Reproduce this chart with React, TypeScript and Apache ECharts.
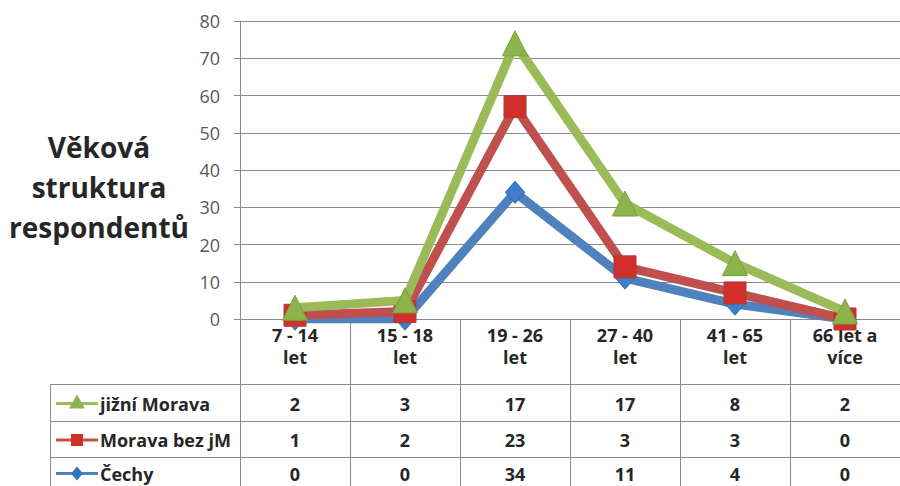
import React, { useEffect, useRef } from "react";
import * as echarts from "echarts";

const categories = ["7 - 14\nlet", "15 - 18\nlet", "19 - 26\nlet", "27 - 40\nlet", "41 - 65\nlet", "66 let a\nvíce"];
const seriesNames = ["jižní Morava", "Morava bez jM", "Čechy"];
const jizniMorava = [2, 3, 17, 17, 8, 2];
const moravaBezJM = [1, 2, 23, 3, 3, 0];
const cechy = [0, 0, 34, 11, 4, 0];
const yMin = 0;
const yMax = 80;
const yInterval = 10;
const titleLines = ["Věková", "struktura", "respondentů"];

const GREEN = "#9bbb59";
const RED = "#c0504d";
const BLUE = "#4f81bd";
const GRID_C = "#8a8a8a";
const FONT = "Open Sans";

export default function App() {
  const ref = useRef<HTMLDivElement>(null);
  useEffect(() => {
    if (!ref.current) return;
    const chart = echarts.init(ref.current, null, { renderer: "svg" });
    const gridLeft = 240;
    const gridTop = 21;
    const gridBottom = 167;
    chart.setOption({
      animation: false,
      backgroundColor: "#ffffff",
      grid: { left: gridLeft, right: 0, top: gridTop, bottom: gridBottom, containLabel: false },
      xAxis: {
        type: "category",
        data: categories,
        boundaryGap: true,
        axisLine: { show: true, lineStyle: { color: GRID_C, width: 1 } },
        axisTick: { show: true, length: 175, lineStyle: { color: GRID_C, width: 1 } },
        axisLabel: {
          margin: 5,
          color: "#262626",
          fontFamily: FONT,
          fontWeight: "bold",
          fontSize: 18,
          lineHeight: 22,
          verticalAlign: "top",
          interval: 0,
        },
      },
      yAxis: {
        type: "value",
        min: yMin,
        max: yMax,
        interval: yInterval,
        axisLine: { show: true, lineStyle: { color: GRID_C, width: 1 } },
        axisTick: { show: true, length: 6, lineStyle: { color: GRID_C } },
        axisLabel: { color: "#595959", fontFamily: FONT, fontSize: 18, margin: 20 },
        splitLine: { show: true, lineStyle: { color: GRID_C, width: 1 } },
      },
      series: [
        {
          name: seriesNames[2],
          type: "line",
          stack: "total",
          data: cechy,
          symbol: "diamond",
          symbolSize: [19, 22],
          lineStyle: { color: BLUE, width: 9 },
          itemStyle: { color: "#3d7fcc", borderColor: "#3a6aa3", borderWidth: 1 },
          emphasis: { disabled: true },
          z: 2,
        },
        {
          name: seriesNames[1],
          type: "line",
          stack: "total",
          data: moravaBezJM,
          symbol: "rect",
          symbolSize: 22,
          lineStyle: { color: RED, width: 9 },
          itemStyle: { color: "#d32f2a", borderColor: "#a33c39", borderWidth: 1 },
          emphasis: { disabled: true },
          z: 3,
        },
        {
          name: seriesNames[0],
          type: "line",
          stack: "total",
          data: jizniMorava,
          symbol: "triangle",
          symbolSize: [25, 25],
          lineStyle: { color: GREEN, width: 9 },
          itemStyle: { color: "#8cb44a", borderColor: "#76a03a", borderWidth: 1 },
          emphasis: { disabled: true },
          z: 4,
        },
      ],
    });

    const rowTops = [384, 421, 457, 493];
    const tableLeft = 50;
    const width = chart.getWidth();
    const rowValues = [jizniMorava, moravaBezJM, cechy];
    const colors = [GREEN, RED, BLUE];
    const elements: any[] = [];

    elements.push({
      type: "text",
      x: 99,
      y: 187,
      style: {
        text: titleLines.join("\n"),
        textAlign: "center",
        textVerticalAlign: "middle",
        fontFamily: FONT,
        fontWeight: "bold",
        fontSize: 28,
        lineHeight: 40,
        fill: "#262626",
      },
    });

    rowTops.forEach((y) => {
      elements.push({
        type: "line",
        shape: { x1: tableLeft, y1: y + 0.5, x2: width, y2: y + 0.5 },
        style: { stroke: GRID_C, lineWidth: 1 },
        silent: true,
      });
    });
    elements.push({
      type: "line",
      shape: { x1: tableLeft + 0.5, y1: rowTops[0], x2: tableLeft + 0.5, y2: 486 },
      style: { stroke: GRID_C, lineWidth: 1 },
      silent: true,
    });

    rowValues.forEach((vals, r) => {
      const cy = (rowTops[r] + Math.min(rowTops[r + 1], 488)) / 2 + 1;
      const color = colors[r];
      elements.push({
        type: "line",
        shape: { x1: 56, y1: cy, x2: 98, y2: cy },
        style: { stroke: color, lineWidth: 3 },
        silent: true,
      });
      if (r === 0) {
        elements.push({
          type: "polygon",
          shape: { points: [[77, cy - 9], [85, cy + 5], [69, cy + 5]] },
          style: { fill: "#8cb44a" },
        });
      } else if (r === 1) {
        elements.push({
          type: "rect",
          shape: { x: 71, y: cy - 6, width: 12, height: 12 },
          style: { fill: "#d32f2a" },
        });
      } else {
        elements.push({
          type: "polygon",
          shape: { points: [[77, cy - 7], [83, cy], [77, cy + 7], [71, cy]] },
          style: { fill: "#2f73c4" },
        });
      }
      elements.push({
        type: "text",
        style: {
          text: seriesNames[r],
          x: 100,
          y: cy,
          textAlign: "left",
          textVerticalAlign: "middle",
          fontFamily: FONT,
          fontWeight: "bold",
          fontSize: 18,
          fill: "#262626",
        },
      });
      vals.forEach((v, i) => {
        const px = chart.convertToPixel({ xAxisIndex: 0 }, i) as number;
        elements.push({
          type: "text",
          style: {
            text: String(v),
            x: px,
            y: cy,
            textAlign: "center",
            textVerticalAlign: "middle",
            fontFamily: FONT,
            fontWeight: "bold",
            fontSize: 18,
            fill: "#262626",
          },
        });
      });
    });

    chart.setOption({ graphic: { elements } });
    return () => chart.dispose();
  }, []);
  return <div ref={ref} style={{ width: 900, height: 486, position: "absolute", left: 0, top: 0 }} />;
}
